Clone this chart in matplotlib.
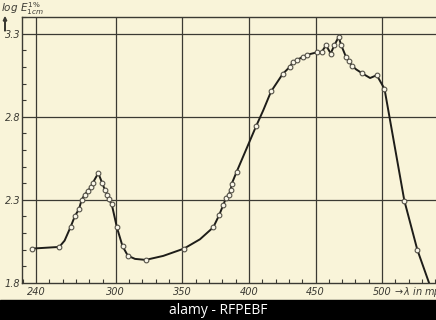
import numpy as np
import matplotlib
matplotlib.use('Agg')
import matplotlib.pyplot as plt
from matplotlib.ticker import MultipleLocator, FixedLocator

# measured points (open circles), wavelength in m-mu and log E 1% 1cm
marker_nm = [237, 257.5, 266, 269.3, 272.3, 274.3, 276.6, 279.3, 281.3, 282.8,
             286.8, 289.8, 291.8, 293.6, 294.6, 296.9, 300.8, 305.0, 309.0, 322.4,
             351.2, 373.2, 377.7, 380.7, 382.7, 384.8, 386.3, 387.0, 390.8, 405.3,
             416.6, 425.3, 430.8, 433.1, 436.1, 440.4, 443.8, 450.9, 454.6, 457.9,
             461.4, 464.1, 467.4, 469.2, 472.9, 475.2, 477.4, 484.9, 496.0, 501.8,
             516.7, 526.5]
marker_log = [2.007, 2.017, 2.137, 2.204, 2.244, 2.300, 2.332, 2.356, 2.380, 2.404,
              2.461, 2.400, 2.360, 2.330, 2.304, 2.274, 2.134, 2.022, 1.964, 1.939,
              2.007, 2.135, 2.210, 2.270, 2.310, 2.330, 2.360, 2.396, 2.470, 2.742,
              2.952, 3.057, 3.101, 3.130, 3.142, 3.160, 3.173, 3.187, 3.190, 3.230,
              3.180, 3.230, 3.280, 3.232, 3.160, 3.133, 3.107, 3.062, 3.050, 2.968,
              2.296, 1.999]

bend_nm = [261.5, 314.4, 335.6, 363.2, 410.8, 480.5, 491.0, 535.3]
bend_log = [2.055, 1.945, 1.963, 2.063, 2.840, 3.085, 3.033, 1.800]

xgrid = [240, 300, 350, 400, 450, 500]
ygrid = [2.3, 2.8, 3.3]
ylabels = ['2.3', '2.8', '3.3']

paper = '#f9f4d9'
ink = '#3b3a33'

curve_nm = np.array(marker_nm + bend_nm)
curve_log = np.array(marker_log + bend_log)
order = np.argsort(curve_nm)

fig = plt.figure(figsize=(4.36, 3.20), dpi=100)
fig.patch.set_facecolor(paper)
ax = fig.add_axes([22 / 436, 1 - 283 / 320, 1 - 22 / 436, (283 - 17) / 320])
ax.set_facecolor(paper)
ax.set_xlim(229.5, 540.5)
ax.set_ylim(1.8, 3.4)

for x in xgrid:
    ax.axvline(x, color=ink, lw=0.9, zorder=1)
for y in ygrid:
    ax.axhline(y, color=ink, lw=0.9, zorder=1)

ax.plot(curve_nm[order], curve_log[order], color='#1e1d19', lw=1.4, zorder=2)
ax.plot(marker_nm, marker_log, 'o', ms=3.4, mfc='#fbf8ea', mec='#555248',
        mew=0.8, zorder=3)

for s in ['left', 'bottom', 'top']:
    ax.spines[s].set_color(ink)
    ax.spines[s].set_linewidth(1.0)
ax.spines['right'].set_visible(False)

ax.xaxis.set_major_locator(FixedLocator(xgrid))
ax.yaxis.set_major_locator(FixedLocator([1.8] + ygrid))
ax.xaxis.set_minor_locator(MultipleLocator(10))
ax.yaxis.set_minor_locator(MultipleLocator(0.1))
ax.tick_params(which='major', length=0, pad=3, labelsize=7, labelcolor=ink)
ax.tick_params(which='minor', direction='in', length=3, width=0.8, color=ink)
ax.set_xticklabels([str(v) for v in xgrid], fontstyle='italic')
ax.set_yticklabels(['1.8'] + ylabels, fontstyle='italic')
ax.tick_params(axis='y', pad=1)

ax.text(508, 1.8 - 0.055, r'$\rightarrow\!\lambda\ in\ m\mu$', fontsize=7,
        color=ink, ha='left', va='center', clip_on=False)
fig.text(0.002, 0.998, r'$log\ E^{1\%}_{1cm}$', fontsize=7.5, color=ink,
         ha='left', va='top')
fig.patches.append(matplotlib.patches.FancyArrow(
    5 / 436, 1 - 31 / 320, 0, 10 / 320, width=0.001, head_width=0.008,
    head_length=0.012, color=ink, transform=fig.transFigure, figure=fig))

# watermark band at the bottom of the scan
fig.patches.append(matplotlib.patches.Rectangle(
    (0, 0), 1, 20 / 320, color='black', transform=fig.transFigure, figure=fig))
fig.text(0.5, 10 / 320, 'alamy - RFPEBF', color='white', fontsize=10,
         ha='center', va='center', family='Open Sans')

fig.savefig('out.png', dpi=100, facecolor=paper)
